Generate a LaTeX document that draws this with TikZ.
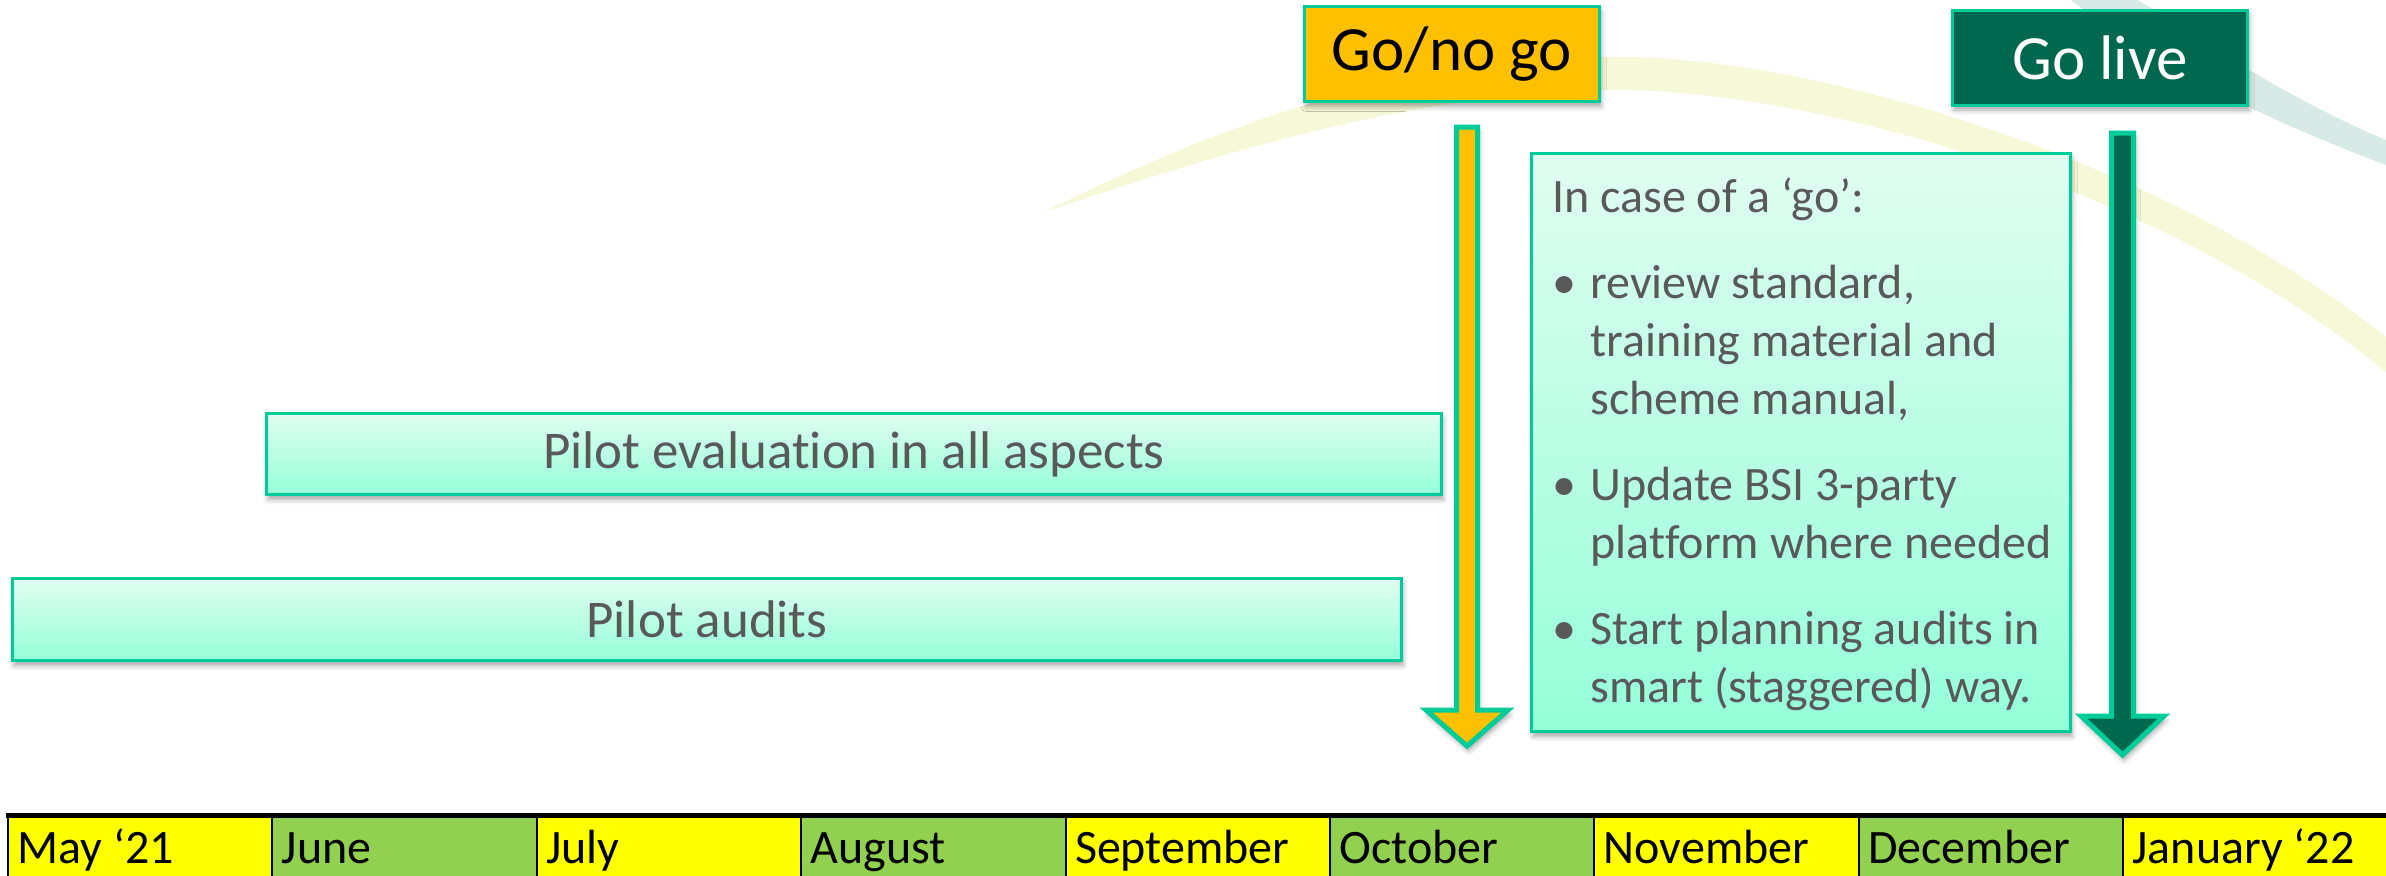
\documentclass[tikz,border=0pt]{standalone}
\usepackage{fontspec}
\setmainfont[Ligatures=NoCommon]{Carlito}
\usetikzlibrary{shadows.blur}
\definecolor{edgeteal}{HTML}{00CC99}
\definecolor{goldfill}{HTML}{FFC000}
\definecolor{darkgreen}{HTML}{00684F}
\definecolor{mintTop}{HTML}{E0FDF1}
\definecolor{mintBot}{HTML}{95FFD9}
\definecolor{txtgray}{HTML}{595959}
\definecolor{monY}{HTML}{FFFF00}
\definecolor{monG}{HTML}{92D050}
\definecolor{arcY}{HTML}{F6F8D8}
\definecolor{arcG}{HTML}{D8EAE5}
\begin{document}
\begin{tikzpicture}[x=0.5pt,y=-0.5pt,
  myshadow/.style={blur shadow={shadow xshift=0.8pt, shadow yshift=-2.5pt, shadow blur radius=2.5pt, shadow opacity=35}},
  minty/.style={draw=edgeteal, line width=1.5pt, top color=mintTop, bottom color=mintBot, myshadow, text=txtgray},
  milestone/.style={draw=edgeteal, line width=1.5pt, myshadow, minimum width=147.5pt, minimum height=47.5pt, font=\fontsize{31.5}{36}\selectfont},
  blockarrow/.style={draw=edgeteal, line width=2.5pt, line join=miter, myshadow},
  monthtxt/.style={anchor=base west, inner sep=0pt, font=\fontsize{24}{28}\selectfont, text=black}]
\useasboundingbox (0,0) rectangle (2386,875);
\begin{scope}
\clip (0,0) rectangle (2386,875);
% background swooshes
\fill[arcY] (1044,212) .. controls (1250,110) and (1420,58) .. (1619,57)
  .. controls (1800,56) and (2150,150) .. (2386,337) -- (2386,372)
  .. controls (2150,178) and (1800,90) .. (1619,90)
  .. controls (1420,91) and (1230,150) .. (1044,212) -- cycle;
\fill[arcG] (2135,-2) .. controls (2200,40) and (2290,100) .. (2386,140) -- (2386,165)
  .. controls (2280,125) and (2170,75) .. (2068,-2) -- cycle;
\end{scope}

% bars
\node[minty, minimum width=587.5pt, minimum height=40.5pt, font=\fontsize{26.5}{30}\selectfont] (evalbar) at (854,454) {Pilot evaluation in all aspects};
\node[minty, minimum width=694.5pt, minimum height=41pt, font=\fontsize{26.5}{30}\selectfont] (auditbar) at (707,619.5) {Pilot audits};

% milestones
\node[milestone, fill=goldfill, text=black] (gonogo) at (1452,54) {Go/no go};
\node[milestone, fill=darkgreen, text=white] (golive) at (2100,57.5) {Go live};

% block arrows
\path[blockarrow, fill=goldfill] (1456.5,127) -- (1477.5,127) -- (1477.5,710) -- (1508,710) -- (1467,746) -- (1426,710) -- (1456.5,710) -- cycle;
\path[blockarrow, fill=darkgreen] (2111.5,133) -- (2133.5,133) -- (2133.5,716) -- (2164,716) -- (2122.5,755) -- (2081,716) -- (2111.5,716) -- cycle;

% text box
\node[minty, minimum width=269.5pt, minimum height=289pt] (gobox) at (1801,442.5) {};
\node[anchor=base west, inner sep=0pt, text=txtgray, font=\fontsize{24}{29}\selectfont] (golist) at (1552,212)
{\begin{tabular}[t]{@{}p{19pt}@{}l@{}}
\multicolumn{2}{@{}l@{}}{In case of a ‘go’:}\\[14pt]
•&review standard,\\
&training material and\\
&scheme manual,\\[14pt]
•&Update BSI 3-party\\
&platform where needed\\[14pt]
•&Start planning audits in\\
&smart (staggered) way.
\end{tabular}};

% timeline
\foreach \m/\c [count=\i from 0] in {May ‘21/monY, June/monG, July/monY, August/monG, September/monY, October/monG, November/monY, December/monG, January ‘22/monY}{
  \path[fill=\c, draw=black, line width=1pt] ({8+\i*264.4},815) rectangle ({8+(\i+1)*264.4},878);
  \node[monthtxt] (month\i) at ({17+\i*264.4},863) {\m};
}
\draw[line width=2.5pt] (6,815) -- (2386,815);
\end{tikzpicture}
\end{document}
